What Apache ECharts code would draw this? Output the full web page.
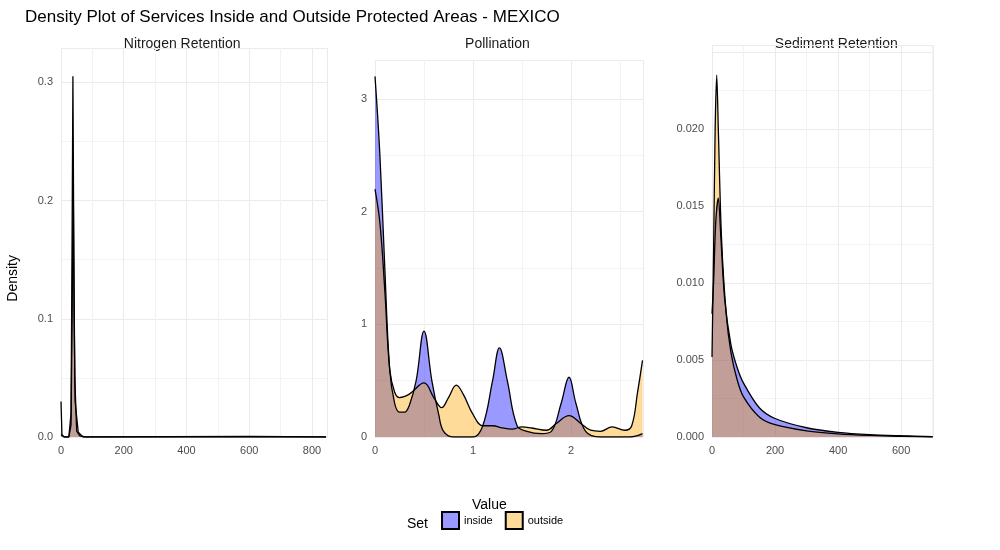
<!DOCTYPE html>
<html><head><meta charset="utf-8">
<script src="https://cdn.jsdelivr.net/npm/echarts@6/dist/echarts.min.js"></script>
<style>body{margin:0}#c{width:1000px;height:550px}</style></head>
<body><div id="c"></div>
<script>
const nitroInX = [0,3,10,25,32,35,38,41,44,50,60,80,845];
const nitroInY = [0.03,0.002,0,0,0.02,0.15,0.305,0.15,0.05,0.005,0.001,0,0];
const nitroOutX = [0,10,25,32,36,39,42,45,55,70,600,845];
const nitroOutY = [0.002,0,0,0.01,0.12,0.215,0.1,0.03,0.004,0,0.0005,0];
const pollInX = [0,0.05,0.1,0.15,0.2,0.25,0.3,0.35,0.42,0.5,0.58,0.65,0.7,0.8,1.0,1.1,1.2,1.27,1.35,1.45,1.55,1.7,1.8,1.9,1.98,2.05,2.15,2.3,2.6,2.73];
const pollInY = [3.2,2.5,1.5,0.6,0.3,0.22,0.22,0.28,0.5,0.94,0.5,0.2,0.05,0,0,0.1,0.5,0.79,0.5,0.1,0.05,0.03,0.05,0.3,0.53,0.3,0.05,0,0,0.03];
const pollOutX = [0,0.05,0.1,0.15,0.2,0.25,0.35,0.5,0.6,0.68,0.75,0.83,0.9,1.0,1.1,1.2,1.3,1.4,1.5,1.6,1.75,1.85,1.98,2.1,2.2,2.3,2.42,2.55,2.62,2.68,2.73];
const pollOutY = [2.2,1.9,1.3,0.6,0.4,0.35,0.38,0.48,0.35,0.26,0.35,0.46,0.38,0.2,0.1,0.1,0.08,0.07,0.09,0.08,0.06,0.12,0.19,0.12,0.06,0.05,0.09,0.06,0.1,0.4,0.68];
const sedInX = [0,5,12,20,28,40,60,80,100,150,200,300,400,500,600,700];
const sedInY = [0.008,0.010,0.014,0.0155,0.013,0.009,0.006,0.0045,0.0035,0.0019,0.0012,0.0006,0.0003,0.00015,0.00008,0.00003];
const sedOutX = [0,5,10,15,20,30,45,60,80,100,150,200,300,400,500,600,700];
const sedOutY = [0.0052,0.012,0.020,0.0235,0.02,0.013,0.008,0.0055,0.0037,0.0026,0.0013,0.0008,0.0004,0.0002,0.0001,0.00005,0];
const panelTitles = ['Nitrogen Retention','Pollination','Sediment Retention'];
const zip=(a,b)=>a.map((v,i)=>[v,b[i]]);
const IN='rgba(0,0,255,0.4)', OUT='rgba(255,165,0,0.4)';
const gl={lineStyle:{color:'#ebebeb'}};
const lab={color:'#4d4d4d',fontSize:11,fontFamily:'Liberation Sans'};
function xa(i,max,intv){return {type:'value',gridIndex:i,min:0,max:max,interval:intv,axisLine:{show:false},axisTick:{show:false},axisLabel:Object.assign({showMaxLabel:false},lab),splitLine:gl,minorTick:{show:false,splitNumber:2},minorSplitLine:{show:true,lineStyle:{color:'#f3f3f3'}}};}
function ya(i,max,intv,fmt){return {type:'value',gridIndex:i,min:0,max:max,interval:intv,axisLine:{show:false},axisTick:{show:false},axisLabel:Object.assign({showMaxLabel:false,formatter:fmt},lab),splitLine:gl,minorTick:{show:false,splitNumber:2},minorSplitLine:{show:true,lineStyle:{color:'#f3f3f3'}}};}
function s(name,i,data,col,sm){return {name:name,type:'line',xAxisIndex:i,yAxisIndex:i,data:data,smooth:sm,symbol:'none',lineStyle:{color:'#000',width:1.3},itemStyle:{color:col,borderColor:'#000',borderWidth:1},areaStyle:{color:col,opacity:1}};}
const ch=echarts.init(document.getElementById('c'));
ch.setOption({
 animation:false,
 textStyle:{fontFamily:'Liberation Sans'},
 title:{text:'Density Plot of Services Inside and Outside Protected Areas - MEXICO',left:20,top:4,textStyle:{fontSize:17,fontWeight:'normal',color:'#000'}},
 grid:[{left:61,top:48,width:266,bottom:113},{left:375,top:60,width:268,bottom:113},{left:712,top:45,width:221,bottom:113}],
 xAxis:[xa(0,848,200),xa(1,2.735,1),xa(2,701,200)],
 yAxis:[ya(0,0.329,0.1,v=>v.toFixed(1)),ya(1,3.345,1,v=>v.toFixed(0)),ya(2,0.02545,0.005,v=>v>0.021?'':v.toFixed(3))],
 legend:{bottom:15,left:436,icon:'rect',itemWidth:17,itemHeight:17,itemGap:12,textStyle:{fontSize:11,color:'#000'},data:['inside','outside']},
 graphic:panelTitles.map((t,i)=>({type:'text',left:[194,508,845][i]-t.length*3.9,top:37,style:{text:t,fontSize:14,fill:'#1a1a1a'}})).concat([
  {type:'text',left:407,top:517,style:{text:'Set',fontSize:14,fill:'#000'}},
  {type:'text',left:472,top:498,style:{text:'Value',fontSize:14,fill:'#000'}},
  {type:'text',left:6,top:255,rotation:Math.PI/2,style:{text:'Density',fontSize:14,fill:'#000'}}]),
 series:[s('inside',0,zip(nitroInX,nitroInY),IN,false),s('outside',0,zip(nitroOutX,nitroOutY),OUT,false),
  s('inside',1,zip(pollInX,pollInY),IN,0.4),s('outside',1,zip(pollOutX,pollOutY),OUT,0.4),
  s('inside',2,zip(sedInX,sedInY),IN,0.3),s('outside',2,zip(sedOutX,sedOutY),OUT,0.3)]
});
</script></body></html>
